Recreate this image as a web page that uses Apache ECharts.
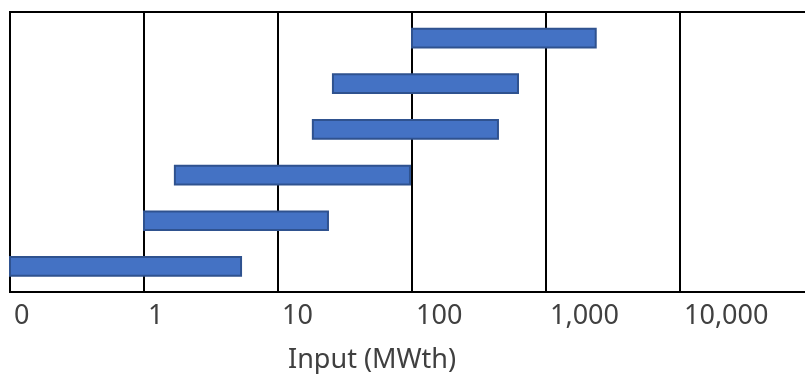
<!DOCTYPE html>
<html>
<head>
<meta charset="utf-8">
<script src="https://cdn.jsdelivr.net/npm/echarts@6/dist/echarts.min.js"></script>
<style>
  html, body { margin: 0; padding: 0; background: #fff; }
  #chart { width: 805px; height: 374px; }
</style>
</head>
<body>
<div id="chart"></div>
<script>
// Input ranges (MWth), top row first
var rangeStart = [100, 25.7, 18.2, 1.7, 1, 0.1];
var rangeEnd   = [2350, 618, 438, 96.6, 23.6, 5.3];

// Decade ticks on the log axis and their printed labels
var tickValues = [0.1, 1, 10, 100, 1000, 10000];
var tickLabels = ['0', '1', '10', '100', '1,000', '10,000'];

var axisTitle = 'Input (MWth)';

var rows = rangeStart.map(function (s, i) { return [s, rangeEnd[i], i]; });

var FONT = '"Noto Sans", "DejaVu Sans", sans-serif';
var chart = echarts.init(document.getElementById('chart'), null, { renderer: 'canvas' });

chart.setOption({
  animation: false,
  backgroundColor: '#ffffff',
  title: {
    text: axisTitle,
    left: 283,
    top: 342,
    textStyle: { fontFamily: FONT, fontSize: 27, fontWeight: 'normal', color: '#404040' }
  },
  grid: {
    left: 10, top: 12, width: 804, height: 280,
    outerBoundsMode: 'none',
    containLabel: false,
    show: true, borderColor: '#000', borderWidth: 2, backgroundColor: 'transparent'
  },
  xAxis: {
    type: 'log',
    logBase: 10,
    min: 0.1,
    max: 100000,
    axisLine: { show: true, onZero: false, lineStyle: { color: '#000', width: 2 } },
    axisTick: { show: false },
    splitLine: { show: true, lineStyle: { color: '#000', width: 2 } },
    axisLabel: {
      color: '#404040',
      fontFamily: FONT,
      fontSize: 27,
      align: 'left',
      padding: [0, 0, 0, 4],
      margin: 11,
      formatter: function (v) {
        for (var i = 0; i < tickValues.length; i++) {
          if (Math.abs(Math.log10(v) - Math.log10(tickValues[i])) < 1e-6) return tickLabels[i];
        }
        return '';
      }
    }
  },
  yAxis: {
    type: 'value',
    inverse: true,
    min: -0.57,
    max: 5.56,
    show: false,
    splitLine: { show: false }
  },
  series: [{
    type: 'custom',
    clip: false,
    data: rows,
    encode: { x: [0, 1], y: 2 },
    renderItem: function (params, api) {
      var a = api.coord([api.value(0), api.value(2)]);
      var b = api.coord([api.value(1), api.value(2)]);
      var h = api.size([0, 1])[1] * 0.41;
      return {
        type: 'rect',
        shape: { x: a[0], y: a[1] - h / 2, width: b[0] - a[0], height: h },
        style: { fill: '#4472C4', stroke: '#2F528F', lineWidth: 2 }
      };
    }
  }]
});
</script>
</body>
</html>
